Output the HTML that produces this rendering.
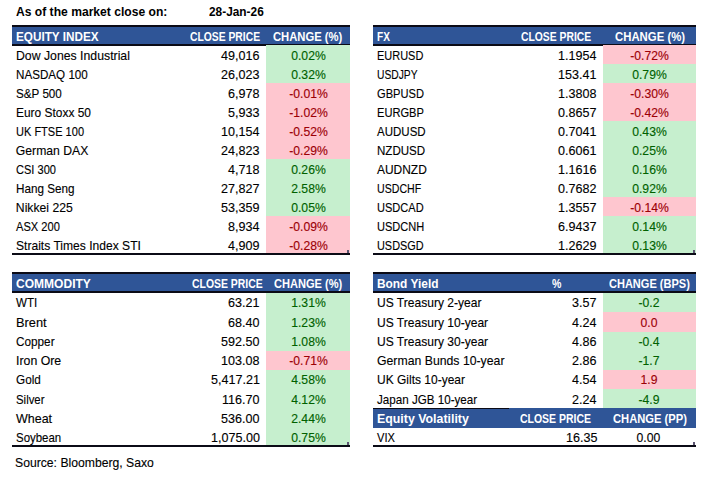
<!DOCTYPE html>
<html><head><meta charset="utf-8"><style>
html,body{margin:0;padding:0;background:#fff;}
body{width:711px;height:477px;position:relative;overflow:hidden;font-family:"Liberation Sans",sans-serif;color:#000;}
body>div{position:absolute;}
.t{white-space:nowrap;transform-origin:0 0;}
.r{-webkit-text-stroke:0.12px currentColor;}
.h{-webkit-text-stroke:0.55px currentColor;}
</style></head><body>
<div class="t b" style="left:15.85px;top:5.65px;font-size:12.7px;line-height:12.7px;font-weight:bold;transform:scaleX(0.9539);">As of the market close on:</div>
<div class="t b" style="left:208.70px;top:5.75px;font-size:12.7px;line-height:12.7px;font-weight:bold;transform:scaleX(0.9350);">28-Jan-26</div>
<div style="left:12.00px;top:25.00px;width:338.00px;height:21.00px;background:#2f5597"></div>
<div style="left:12.00px;top:25.00px;width:338.00px;height:2.00px;background:#0b0b16"></div>
<div style="left:12.00px;top:44.00px;width:338.00px;height:2.00px;background:#0b0b16"></div>
<div class="t b" style="left:15.90px;top:30.95px;font-size:12.7px;line-height:12.7px;font-weight:bold;color:#fff;transform:scaleX(0.9250);">EQUITY INDEX</div>
<div class="t b" style="left:189.60px;top:30.95px;font-size:12.7px;line-height:12.7px;font-weight:bold;color:#fff;transform:scaleX(0.8141);">CLOSE PRICE</div>
<div class="t b" style="left:273.30px;top:30.95px;font-size:12.7px;line-height:12.7px;font-weight:bold;color:#fff;transform:scaleX(0.8864);">CHANGE (%)</div>
<div style="left:266.00px;top:45.00px;width:84.00px;height:19.00px;background:#c6efce"></div>
<div style="left:266.00px;top:64.00px;width:84.00px;height:19.00px;background:#c6efce"></div>
<div style="left:266.00px;top:83.00px;width:84.00px;height:19.00px;background:#fec6cf"></div>
<div style="left:266.00px;top:102.00px;width:84.00px;height:19.00px;background:#fec6cf"></div>
<div style="left:266.00px;top:121.00px;width:84.00px;height:19.00px;background:#fec6cf"></div>
<div style="left:266.00px;top:140.00px;width:84.00px;height:19.00px;background:#fec6cf"></div>
<div style="left:266.00px;top:159.00px;width:84.00px;height:19.00px;background:#c6efce"></div>
<div style="left:266.00px;top:178.00px;width:84.00px;height:19.00px;background:#c6efce"></div>
<div style="left:266.00px;top:197.00px;width:84.00px;height:19.00px;background:#c6efce"></div>
<div style="left:266.00px;top:216.00px;width:84.00px;height:19.00px;background:#fec6cf"></div>
<div style="left:266.00px;top:235.00px;width:84.00px;height:19.00px;background:#fec6cf"></div>
<div class="t r" style="left:15.85px;top:49.57px;font-size:12.2px;line-height:12.2px;transform:scaleX(1.0069);">Dow Jones Industrial</div>
<div class="t r" style="left:220.85px;top:49.57px;font-size:12.2px;line-height:12.2px;transform:scaleX(1.0300);">49,016</div>
<div class="t r" style="left:291.21px;top:49.57px;font-size:12.2px;line-height:12.2px;color:#006100;">0.02%</div>
<div class="t r" style="left:15.85px;top:68.57px;font-size:12.2px;line-height:12.2px;transform:scaleX(0.9552);">NASDAQ 100</div>
<div class="t r" style="left:220.85px;top:68.57px;font-size:12.2px;line-height:12.2px;transform:scaleX(1.0300);">26,023</div>
<div class="t r" style="left:291.21px;top:68.57px;font-size:12.2px;line-height:12.2px;color:#006100;">0.32%</div>
<div class="t r" style="left:15.85px;top:87.57px;font-size:12.2px;line-height:12.2px;transform:scaleX(0.9573);">S&amp;P 500</div>
<div class="t r" style="left:227.82px;top:87.57px;font-size:12.2px;line-height:12.2px;transform:scaleX(1.0300);">6,978</div>
<div class="t r" style="left:289.16px;top:87.57px;font-size:12.2px;line-height:12.2px;color:#9c0006;">-0.01%</div>
<div class="t r" style="left:15.85px;top:106.57px;font-size:12.2px;line-height:12.2px;transform:scaleX(0.9789);">Euro Stoxx 50</div>
<div class="t r" style="left:227.82px;top:106.57px;font-size:12.2px;line-height:12.2px;transform:scaleX(1.0300);">5,933</div>
<div class="t r" style="left:289.16px;top:106.57px;font-size:12.2px;line-height:12.2px;color:#9c0006;">-1.02%</div>
<div class="t r" style="left:15.85px;top:125.57px;font-size:12.2px;line-height:12.2px;transform:scaleX(0.9047);">UK FTSE 100</div>
<div class="t r" style="left:220.85px;top:125.57px;font-size:12.2px;line-height:12.2px;transform:scaleX(1.0300);">10,154</div>
<div class="t r" style="left:289.16px;top:125.57px;font-size:12.2px;line-height:12.2px;color:#9c0006;">-0.52%</div>
<div class="t r" style="left:15.85px;top:144.57px;font-size:12.2px;line-height:12.2px;">German DAX</div>
<div class="t r" style="left:220.85px;top:144.57px;font-size:12.2px;line-height:12.2px;transform:scaleX(1.0300);">24,823</div>
<div class="t r" style="left:289.16px;top:144.57px;font-size:12.2px;line-height:12.2px;color:#9c0006;">-0.29%</div>
<div class="t r" style="left:15.85px;top:163.57px;font-size:12.2px;line-height:12.2px;transform:scaleX(0.9070);">CSI 300</div>
<div class="t r" style="left:227.82px;top:163.57px;font-size:12.2px;line-height:12.2px;transform:scaleX(1.0300);">4,718</div>
<div class="t r" style="left:291.21px;top:163.57px;font-size:12.2px;line-height:12.2px;color:#006100;">0.26%</div>
<div class="t r" style="left:15.85px;top:182.57px;font-size:12.2px;line-height:12.2px;transform:scaleX(0.9613);">Hang Seng</div>
<div class="t r" style="left:220.85px;top:182.57px;font-size:12.2px;line-height:12.2px;transform:scaleX(1.0300);">27,827</div>
<div class="t r" style="left:291.21px;top:182.57px;font-size:12.2px;line-height:12.2px;color:#006100;">2.58%</div>
<div class="t r" style="left:15.85px;top:201.57px;font-size:12.2px;line-height:12.2px;">Nikkei 225</div>
<div class="t r" style="left:220.85px;top:201.57px;font-size:12.2px;line-height:12.2px;transform:scaleX(1.0300);">53,359</div>
<div class="t r" style="left:291.21px;top:201.57px;font-size:12.2px;line-height:12.2px;color:#006100;">0.05%</div>
<div class="t r" style="left:15.85px;top:220.57px;font-size:12.2px;line-height:12.2px;transform:scaleX(0.9121);">ASX 200</div>
<div class="t r" style="left:227.82px;top:220.57px;font-size:12.2px;line-height:12.2px;transform:scaleX(1.0300);">8,934</div>
<div class="t r" style="left:289.16px;top:220.57px;font-size:12.2px;line-height:12.2px;color:#9c0006;">-0.09%</div>
<div class="t r" style="left:15.85px;top:239.57px;font-size:12.2px;line-height:12.2px;transform:scaleX(0.9914);">Straits Times Index STI</div>
<div class="t r" style="left:227.82px;top:239.57px;font-size:12.2px;line-height:12.2px;transform:scaleX(1.0300);">4,909</div>
<div class="t r" style="left:289.16px;top:239.57px;font-size:12.2px;line-height:12.2px;color:#9c0006;">-0.28%</div>
<div style="left:12.00px;top:253.00px;width:338.00px;height:2.00px;background:#0b0b16"></div>
<div style="left:373.00px;top:25.00px;width:323.00px;height:21.00px;background:#2f5597"></div>
<div style="left:373.00px;top:25.00px;width:323.00px;height:2.00px;background:#0b0b16"></div>
<div style="left:373.00px;top:44.00px;width:323.00px;height:2.00px;background:#0b0b16"></div>
<div class="t b" style="left:376.70px;top:30.95px;font-size:12.7px;line-height:12.7px;font-weight:bold;color:#fff;transform:scaleX(0.7936);">FX</div>
<div class="t b" style="left:520.70px;top:30.95px;font-size:12.7px;line-height:12.7px;font-weight:bold;color:#fff;transform:scaleX(0.8164);">CLOSE PRICE</div>
<div class="t b" style="left:615.00px;top:30.95px;font-size:12.7px;line-height:12.7px;font-weight:bold;color:#fff;transform:scaleX(0.8953);">CHANGE (%)</div>
<div style="left:603.00px;top:45.00px;width:93.00px;height:19.00px;background:#fec6cf"></div>
<div style="left:603.00px;top:64.00px;width:93.00px;height:19.00px;background:#c6efce"></div>
<div style="left:603.00px;top:83.00px;width:93.00px;height:19.00px;background:#fec6cf"></div>
<div style="left:603.00px;top:102.00px;width:93.00px;height:19.00px;background:#fec6cf"></div>
<div style="left:603.00px;top:121.00px;width:93.00px;height:19.00px;background:#c6efce"></div>
<div style="left:603.00px;top:140.00px;width:93.00px;height:19.00px;background:#c6efce"></div>
<div style="left:603.00px;top:159.00px;width:93.00px;height:19.00px;background:#c6efce"></div>
<div style="left:603.00px;top:178.00px;width:93.00px;height:19.00px;background:#c6efce"></div>
<div style="left:603.00px;top:197.00px;width:93.00px;height:19.00px;background:#fec6cf"></div>
<div style="left:603.00px;top:216.00px;width:93.00px;height:19.00px;background:#c6efce"></div>
<div style="left:603.00px;top:235.00px;width:93.00px;height:19.00px;background:#c6efce"></div>
<div class="t r" style="left:376.70px;top:49.57px;font-size:12.2px;line-height:12.2px;transform:scaleX(0.9002);">EURUSD</div>
<div class="t r" style="left:558.45px;top:49.57px;font-size:12.2px;line-height:12.2px;transform:scaleX(1.0300);">1.1954</div>
<div class="t r" style="left:630.16px;top:49.57px;font-size:12.2px;line-height:12.2px;color:#9c0006;">-0.72%</div>
<div class="t r" style="left:376.70px;top:68.57px;font-size:12.2px;line-height:12.2px;transform:scaleX(0.8436);">USDJPY</div>
<div class="t r" style="left:558.45px;top:68.57px;font-size:12.2px;line-height:12.2px;transform:scaleX(1.0300);">153.41</div>
<div class="t r" style="left:632.21px;top:68.57px;font-size:12.2px;line-height:12.2px;color:#006100;">0.79%</div>
<div class="t r" style="left:376.70px;top:87.57px;font-size:12.2px;line-height:12.2px;transform:scaleX(0.9118);">GBPUSD</div>
<div class="t r" style="left:558.45px;top:87.57px;font-size:12.2px;line-height:12.2px;transform:scaleX(1.0300);">1.3808</div>
<div class="t r" style="left:630.16px;top:87.57px;font-size:12.2px;line-height:12.2px;color:#9c0006;">-0.30%</div>
<div class="t r" style="left:376.70px;top:106.57px;font-size:12.2px;line-height:12.2px;transform:scaleX(0.9118);">EURGBP</div>
<div class="t r" style="left:558.45px;top:106.57px;font-size:12.2px;line-height:12.2px;transform:scaleX(1.0300);">0.8657</div>
<div class="t r" style="left:630.16px;top:106.57px;font-size:12.2px;line-height:12.2px;color:#9c0006;">-0.42%</div>
<div class="t r" style="left:376.70px;top:125.57px;font-size:12.2px;line-height:12.2px;transform:scaleX(0.9448);">AUDUSD</div>
<div class="t r" style="left:558.45px;top:125.57px;font-size:12.2px;line-height:12.2px;transform:scaleX(1.0300);">0.7041</div>
<div class="t r" style="left:632.21px;top:125.57px;font-size:12.2px;line-height:12.2px;color:#006100;">0.43%</div>
<div class="t r" style="left:376.70px;top:144.57px;font-size:12.2px;line-height:12.2px;transform:scaleX(0.9486);">NZDUSD</div>
<div class="t r" style="left:558.45px;top:144.57px;font-size:12.2px;line-height:12.2px;transform:scaleX(1.0300);">0.6061</div>
<div class="t r" style="left:632.21px;top:144.57px;font-size:12.2px;line-height:12.2px;color:#006100;">0.25%</div>
<div class="t r" style="left:376.70px;top:163.57px;font-size:12.2px;line-height:12.2px;transform:scaleX(0.9801);">AUDNZD</div>
<div class="t r" style="left:558.45px;top:163.57px;font-size:12.2px;line-height:12.2px;transform:scaleX(1.0300);">1.1616</div>
<div class="t r" style="left:632.21px;top:163.57px;font-size:12.2px;line-height:12.2px;color:#006100;">0.16%</div>
<div class="t r" style="left:376.70px;top:182.57px;font-size:12.2px;line-height:12.2px;transform:scaleX(0.8699);">USDCHF</div>
<div class="t r" style="left:558.45px;top:182.57px;font-size:12.2px;line-height:12.2px;transform:scaleX(1.0300);">0.7682</div>
<div class="t r" style="left:632.21px;top:182.57px;font-size:12.2px;line-height:12.2px;color:#006100;">0.92%</div>
<div class="t r" style="left:376.70px;top:201.57px;font-size:12.2px;line-height:12.2px;transform:scaleX(0.9060);">USDCAD</div>
<div class="t r" style="left:558.45px;top:201.57px;font-size:12.2px;line-height:12.2px;transform:scaleX(1.0300);">1.3557</div>
<div class="t r" style="left:630.16px;top:201.57px;font-size:12.2px;line-height:12.2px;color:#9c0006;">-0.14%</div>
<div class="t r" style="left:376.70px;top:220.57px;font-size:12.2px;line-height:12.2px;transform:scaleX(0.9059);">USDCNH</div>
<div class="t r" style="left:558.45px;top:220.57px;font-size:12.2px;line-height:12.2px;transform:scaleX(1.0300);">6.9437</div>
<div class="t r" style="left:632.21px;top:220.57px;font-size:12.2px;line-height:12.2px;color:#006100;">0.14%</div>
<div class="t r" style="left:376.70px;top:239.57px;font-size:12.2px;line-height:12.2px;transform:scaleX(0.8944);">USDSGD</div>
<div class="t r" style="left:558.45px;top:239.57px;font-size:12.2px;line-height:12.2px;transform:scaleX(1.0300);">1.2629</div>
<div class="t r" style="left:632.21px;top:239.57px;font-size:12.2px;line-height:12.2px;color:#006100;">0.13%</div>
<div style="left:373.00px;top:253.00px;width:323.00px;height:2.00px;background:#0b0b16"></div>
<div style="left:12.00px;top:272.00px;width:338.00px;height:20.80px;background:#2f5597"></div>
<div style="left:12.00px;top:272.00px;width:338.00px;height:2.00px;background:#0b0b16"></div>
<div style="left:12.00px;top:290.80px;width:338.00px;height:2.00px;background:#0b0b16"></div>
<div class="t b" style="left:16.00px;top:277.55px;font-size:12.7px;line-height:12.7px;font-weight:bold;color:#fff;transform:scaleX(0.9482);">COMMODITY</div>
<div class="t b" style="left:192.20px;top:277.55px;font-size:12.7px;line-height:12.7px;font-weight:bold;color:#fff;transform:scaleX(0.8222);">CLOSE PRICE</div>
<div class="t b" style="left:273.70px;top:277.55px;font-size:12.7px;line-height:12.7px;font-weight:bold;color:#fff;transform:scaleX(0.8723);">CHANGE (%)</div>
<div style="left:266.00px;top:293.20px;width:84.00px;height:19.24px;background:#c6efce"></div>
<div style="left:266.00px;top:312.44px;width:84.00px;height:19.24px;background:#c6efce"></div>
<div style="left:266.00px;top:331.68px;width:84.00px;height:19.24px;background:#c6efce"></div>
<div style="left:266.00px;top:350.92px;width:84.00px;height:19.24px;background:#fec6cf"></div>
<div style="left:266.00px;top:370.16px;width:84.00px;height:19.24px;background:#c6efce"></div>
<div style="left:266.00px;top:389.40px;width:84.00px;height:19.24px;background:#c6efce"></div>
<div style="left:266.00px;top:408.64px;width:84.00px;height:19.24px;background:#c6efce"></div>
<div style="left:266.00px;top:427.88px;width:84.00px;height:19.24px;background:#c6efce"></div>
<div class="t r" style="left:15.85px;top:297.47px;font-size:12.2px;line-height:12.2px;transform:scaleX(0.9514);">WTI</div>
<div class="t r" style="left:228.02px;top:297.47px;font-size:12.2px;line-height:12.2px;transform:scaleX(1.0300);">63.21</div>
<div class="t r" style="left:291.21px;top:297.47px;font-size:12.2px;line-height:12.2px;color:#006100;">1.31%</div>
<div class="t r" style="left:15.85px;top:316.71px;font-size:12.2px;line-height:12.2px;transform:scaleX(1.0529);">Brent</div>
<div class="t r" style="left:228.02px;top:316.71px;font-size:12.2px;line-height:12.2px;transform:scaleX(1.0300);">68.40</div>
<div class="t r" style="left:291.21px;top:316.71px;font-size:12.2px;line-height:12.2px;color:#006100;">1.23%</div>
<div class="t r" style="left:15.85px;top:335.95px;font-size:12.2px;line-height:12.2px;transform:scaleX(0.9646);">Copper</div>
<div class="t r" style="left:221.05px;top:335.95px;font-size:12.2px;line-height:12.2px;transform:scaleX(1.0300);">592.50</div>
<div class="t r" style="left:291.21px;top:335.95px;font-size:12.2px;line-height:12.2px;color:#006100;">1.08%</div>
<div class="t r" style="left:15.85px;top:355.19px;font-size:12.2px;line-height:12.2px;transform:scaleX(1.0117);">Iron Ore</div>
<div class="t r" style="left:221.05px;top:355.19px;font-size:12.2px;line-height:12.2px;transform:scaleX(1.0300);">103.08</div>
<div class="t r" style="left:289.16px;top:355.19px;font-size:12.2px;line-height:12.2px;color:#9c0006;">-0.71%</div>
<div class="t r" style="left:15.85px;top:374.43px;font-size:12.2px;line-height:12.2px;transform:scaleX(0.9634);">Gold</div>
<div class="t r" style="left:210.56px;top:374.43px;font-size:12.2px;line-height:12.2px;transform:scaleX(1.0300);">5,417.21</div>
<div class="t r" style="left:291.21px;top:374.43px;font-size:12.2px;line-height:12.2px;color:#006100;">4.58%</div>
<div class="t r" style="left:15.85px;top:393.67px;font-size:12.2px;line-height:12.2px;transform:scaleX(0.9344);">Silver</div>
<div class="t r" style="left:221.99px;top:393.67px;font-size:12.2px;line-height:12.2px;transform:scaleX(1.0300);">116.70</div>
<div class="t r" style="left:291.21px;top:393.67px;font-size:12.2px;line-height:12.2px;color:#006100;">4.12%</div>
<div class="t r" style="left:15.85px;top:412.91px;font-size:12.2px;line-height:12.2px;transform:scaleX(1.0239);">Wheat</div>
<div class="t r" style="left:221.05px;top:412.91px;font-size:12.2px;line-height:12.2px;transform:scaleX(1.0300);">536.00</div>
<div class="t r" style="left:291.21px;top:412.91px;font-size:12.2px;line-height:12.2px;color:#006100;">2.44%</div>
<div class="t r" style="left:15.85px;top:432.15px;font-size:12.2px;line-height:12.2px;transform:scaleX(0.9400);">Soybean</div>
<div class="t r" style="left:210.56px;top:432.15px;font-size:12.2px;line-height:12.2px;transform:scaleX(1.0300);">1,075.00</div>
<div class="t r" style="left:291.21px;top:432.15px;font-size:12.2px;line-height:12.2px;color:#006100;">0.75%</div>
<div style="left:12.00px;top:445.00px;width:338.00px;height:2.00px;background:#0b0b16"></div>
<div style="left:373.00px;top:272.00px;width:323.00px;height:20.80px;background:#2f5597"></div>
<div style="left:373.00px;top:272.00px;width:323.00px;height:2.00px;background:#0b0b16"></div>
<div style="left:373.00px;top:290.80px;width:323.00px;height:2.00px;background:#0b0b16"></div>
<div class="t b" style="left:376.75px;top:277.65px;font-size:12.7px;line-height:12.7px;font-weight:bold;color:#fff;transform:scaleX(0.9376);">Bond Yield</div>
<div class="t b" style="left:551.60px;top:277.65px;font-size:12.7px;line-height:12.7px;font-weight:bold;color:#fff;transform:scaleX(0.8316);">%</div>
<div class="t b" style="left:609.10px;top:277.65px;font-size:12.7px;line-height:12.7px;font-weight:bold;color:#fff;transform:scaleX(0.8684);">CHANGE (BPS)</div>
<div style="left:603.00px;top:293.20px;width:93.00px;height:19.24px;background:#c6efce"></div>
<div style="left:603.00px;top:312.44px;width:93.00px;height:19.24px;background:#fec6cf"></div>
<div style="left:603.00px;top:331.68px;width:93.00px;height:19.24px;background:#c6efce"></div>
<div style="left:603.00px;top:350.92px;width:93.00px;height:19.24px;background:#c6efce"></div>
<div style="left:603.00px;top:370.16px;width:93.00px;height:19.24px;background:#fec6cf"></div>
<div style="left:603.00px;top:389.40px;width:93.00px;height:19.24px;background:#c6efce"></div>
<div class="t r" style="left:376.70px;top:297.47px;font-size:12.2px;line-height:12.2px;transform:scaleX(0.9889);">US Treasury 2-year</div>
<div class="t r" style="left:572.06px;top:297.47px;font-size:12.2px;line-height:12.2px;transform:scaleX(1.0300);">3.57</div>
<div class="t r" style="left:638.48px;top:297.47px;font-size:12.2px;line-height:12.2px;color:#006100;">-0.2</div>
<div class="t r" style="left:376.70px;top:316.71px;font-size:12.2px;line-height:12.2px;transform:scaleX(0.9880);">US Treasury 10-year</div>
<div class="t r" style="left:572.06px;top:316.71px;font-size:12.2px;line-height:12.2px;transform:scaleX(1.0300);">4.24</div>
<div class="t r" style="left:640.52px;top:316.71px;font-size:12.2px;line-height:12.2px;color:#9c0006;">0.0</div>
<div class="t r" style="left:376.70px;top:335.95px;font-size:12.2px;line-height:12.2px;transform:scaleX(0.9880);">US Treasury 30-year</div>
<div class="t r" style="left:572.06px;top:335.95px;font-size:12.2px;line-height:12.2px;transform:scaleX(1.0300);">4.86</div>
<div class="t r" style="left:638.48px;top:335.95px;font-size:12.2px;line-height:12.2px;color:#006100;">-0.4</div>
<div class="t r" style="left:376.70px;top:355.19px;font-size:12.2px;line-height:12.2px;transform:scaleX(1.0062);">German Bunds 10-year</div>
<div class="t r" style="left:572.06px;top:355.19px;font-size:12.2px;line-height:12.2px;transform:scaleX(1.0300);">2.86</div>
<div class="t r" style="left:638.48px;top:355.19px;font-size:12.2px;line-height:12.2px;color:#006100;">-1.7</div>
<div class="t r" style="left:376.70px;top:374.43px;font-size:12.2px;line-height:12.2px;transform:scaleX(0.9845);">UK Gilts 10-year</div>
<div class="t r" style="left:572.06px;top:374.43px;font-size:12.2px;line-height:12.2px;transform:scaleX(1.0300);">4.54</div>
<div class="t r" style="left:640.52px;top:374.43px;font-size:12.2px;line-height:12.2px;color:#9c0006;">1.9</div>
<div class="t r" style="left:376.70px;top:393.67px;font-size:12.2px;line-height:12.2px;transform:scaleX(0.9534);">Japan JGB 10-year</div>
<div class="t r" style="left:572.06px;top:393.67px;font-size:12.2px;line-height:12.2px;transform:scaleX(1.0300);">2.24</div>
<div class="t r" style="left:638.48px;top:393.67px;font-size:12.2px;line-height:12.2px;color:#006100;">-4.9</div>
<div style="left:373.00px;top:408.40px;width:323.00px;height:19.20px;background:#2f5597"></div>
<div style="left:373.00px;top:407.60px;width:136.00px;height:1.20px;background:#0b0b16"></div>
<div class="t b" style="left:376.90px;top:412.65px;font-size:12.7px;line-height:12.7px;font-weight:bold;color:#fff;transform:scaleX(0.9746);">Equity Volatility</div>
<div class="t b" style="left:520.30px;top:412.65px;font-size:12.7px;line-height:12.7px;font-weight:bold;color:#fff;transform:scaleX(0.8257);">CLOSE PRICE</div>
<div class="t b" style="left:613.00px;top:412.65px;font-size:12.7px;line-height:12.7px;font-weight:bold;color:#fff;transform:scaleX(0.8815);">CHANGE (PP)</div>
<div class="t r" style="left:376.90px;top:432.27px;font-size:12.2px;line-height:12.2px;transform:scaleX(0.9113);">VIX</div>
<div class="t r" style="left:565.52px;top:432.27px;font-size:12.2px;line-height:12.2px;transform:scaleX(1.0300);">16.35</div>
<div class="t r" style="left:636.54px;top:432.27px;font-size:12.2px;line-height:12.2px;">0.00</div>
<div style="left:373.00px;top:445.00px;width:323.00px;height:2.00px;background:#0b0b16"></div>
<div style="left:347.00px;top:250.00px;width:2.00px;height:3.00px;background:#5b5470"></div>
<div style="left:693.00px;top:250.00px;width:2.00px;height:3.00px;background:#5b5470"></div>
<div style="left:347.00px;top:442.00px;width:2.00px;height:3.00px;background:#5b5470"></div>
<div style="left:693.00px;top:442.00px;width:2.00px;height:3.00px;background:#5b5470"></div>
<div class="t r" style="left:15.00px;top:457.27px;font-size:12.2px;line-height:12.2px;">Source: Bloomberg, Saxo</div>
</body></html>
